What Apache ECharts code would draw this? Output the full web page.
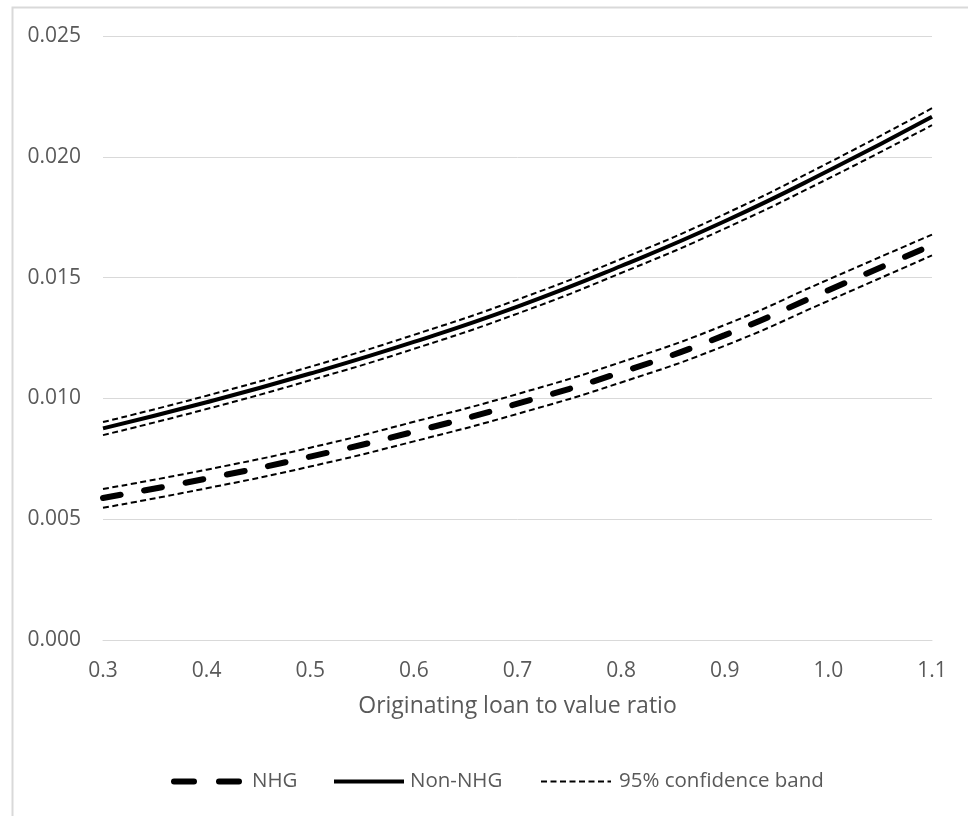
<!DOCTYPE html>
<html>
<head>
<meta charset="utf-8">
<script src="https://cdn.jsdelivr.net/npm/echarts@6/dist/echarts.min.js"></script>
<style>
  html, body { margin: 0; padding: 0; background: #fff; }
  #chart { width: 968px; height: 816px; }
</style>
</head>
<body>
<div id="chart"></div>
<script>
// Originating loan-to-value ratio
const ltv = [0.3, 0.4, 0.5, 0.6, 0.7, 0.8, 0.9, 1.0, 1.1];

// NHG-guaranteed loans: estimate and 95% band
const nhg      = [0.00588, 0.00668, 0.00759, 0.00862, 0.00978, 0.01108, 0.01262, 0.01448, 0.01635];
const nhgUpper = [0.00625, 0.00705, 0.00796, 0.00903, 0.01018, 0.01150, 0.01304, 0.01492, 0.01678];
const nhgLower = [0.00547, 0.00628, 0.00718, 0.00822, 0.00936, 0.01066, 0.01218, 0.01404, 0.01592];

// Non-NHG loans: estimate and 95% band
const nonNhg      = [0.00876, 0.00984, 0.01103, 0.01234, 0.01380, 0.01548, 0.01733, 0.01942, 0.02166];
const nonNhgUpper = [0.00902, 0.01011, 0.01131, 0.01263, 0.01409, 0.01577, 0.01763, 0.01975, 0.02201];
const nonNhgLower = [0.00848, 0.00956, 0.01075, 0.01205, 0.01351, 0.01519, 0.01703, 0.01910, 0.02131];

const xTitle = 'Originating loan to value ratio';
const names = { nhg: 'NHG', non: 'Non-NHG', band: '95% confidence band' };

const pairs = ys => ltv.map((x, i) => [x, ys[i]]);
const FONT = '"Open Sans", "Noto Sans", sans-serif';
const TEXT = '#595959';

const bandStyle = { color: '#000', width: 2, type: [6, 3.5] };
const nonStyle = { color: '#000', width: 4 };
const nhgStyle = { color: '#000', width: 6, type: [18, 24], cap: 'round' };

function line(name, ys, lineStyle, z) {
  return {
    name, type: 'line', data: pairs(ys), smooth: true,
    showSymbol: false, symbol: 'none', z,
    lineStyle, itemStyle: { color: '#000' },
    emphasis: { disabled: true }
  };
}

// one legend block per entry so each can sit at its own position
function legendAt(left, name, lineStyle, textPad) {
  return {
    left, top: 771, orient: 'horizontal', padding: 0,
    itemWidth: 70, itemHeight: 10,
    itemStyle: { opacity: 0 },
    lineStyle,
    textStyle: { color: TEXT, fontSize: 20.5, fontFamily: FONT, padding: [0, 0, 0, textPad] },
    data: [name],
    selectedMode: false
  };
}

const chart = echarts.init(document.getElementById('chart'), null, { renderer: 'canvas' });
chart.setOption({
  animation: false,
  backgroundColor: '#fff',
  graphic: [{
    type: 'rect', left: 10, top: 5, z: -1,
    shape: { width: 1000, height: 1000 },
    style: { fill: 'none', stroke: '#d9d9d9', lineWidth: 2 }
  }],
  grid: { left: 103, right: 36, top: 36, bottom: 176 },
  xAxis: {
    type: 'value', min: 0.3, max: 1.1, interval: 0.1,
    name: xTitle, nameLocation: 'middle', nameGap: 55,
    nameTextStyle: { color: TEXT, fontSize: 23, fontFamily: FONT },
    axisLine: { show: true, lineStyle: { color: '#d9d9d9', width: 1 } },
    axisTick: { show: false },
    splitLine: { show: false },
    axisLabel: {
      color: TEXT, fontSize: 21, fontFamily: FONT, margin: 21,
      formatter: v => v.toFixed(1)
    }
  },
  yAxis: {
    type: 'value', min: 0, max: 0.025, interval: 0.005,
    axisLine: { show: false },
    axisTick: { show: false },
    splitLine: { lineStyle: { color: '#d9d9d9', width: 1 } },
    axisLabel: {
      color: TEXT, fontSize: 21, fontFamily: FONT, margin: 22,
      formatter: v => v.toFixed(3)
    }
  },
  legend: [
    legendAt(171, names.nhg, { color: '#000', width: 6, type: [20, 25], cap: 'round' }, 3),
    legendAt(332, names.non, { color: '#000', width: 4, type: 'solid' }, 1),
    legendAt(540, names.band, { color: '#000', width: 2, type: [6, 3.5] }, 3)
  ],
  series: [
    line(names.band, nonNhgUpper, bandStyle, 2),
    line(names.band, nonNhgLower, bandStyle, 2),
    line(names.band, nhgUpper, bandStyle, 2),
    line(names.band, nhgLower, bandStyle, 2),
    line(names.non, nonNhg, nonStyle, 3),
    line(names.nhg, nhg, nhgStyle, 3)
  ]
});
</script>
</body>
</html>
